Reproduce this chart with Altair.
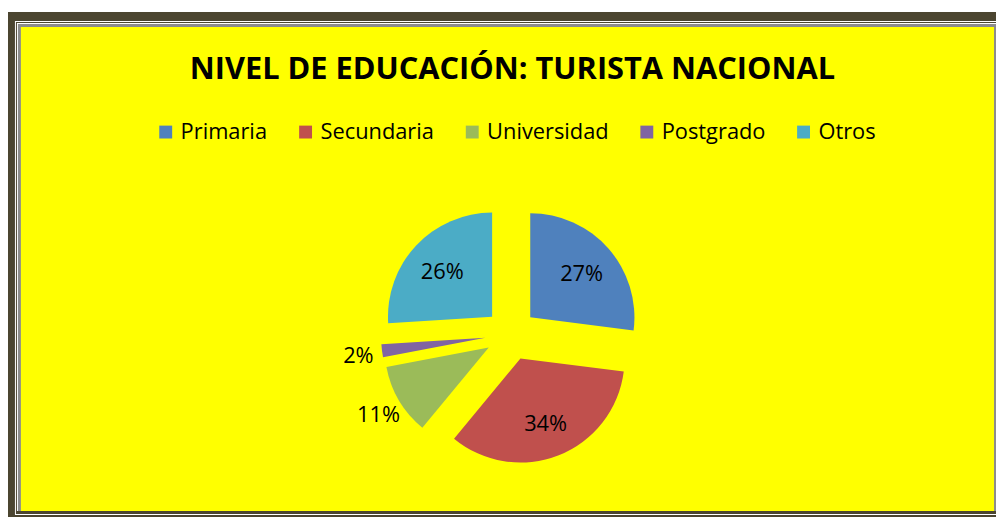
import math
import altair as alt
import pandas as pd

# ---- data ----
categories = ["Primaria", "Secundaria", "Universidad", "Postgrado", "Otros"]
values = [27, 34, 11, 2, 26]
colors = ["#4F81BD", "#C0504D", "#9BBB59", "#8064A2", "#4BACC6"]
title_text = "NIVEL DE EDUCACIÓN: TURISTA NACIONAL"

df = pd.DataFrame({"categoria": categories, "valor": values,
                   "orden": list(range(len(categories)))})
one = pd.DataFrame({"k": [0]})
total = sum(values)

# ---- layout ----
W, H = 996, 511
CX, CY = 507, 327
R = 105
EXPLODE = 26
FONT = "Open Sans"

xscale = alt.Scale(domain=[-CX, W - CX], range=[0, W], nice=False, zero=False)
yscale = alt.Scale(domain=[-CY, H - CY], range=[0, H], nice=False, zero=False)

base = alt.Chart(df).transform_window(
    fin="sum(valor)", sort=[alt.SortField("orden")], frame=[None, 0]
).transform_joinaggregate(
    total="sum(valor)"
).transform_calculate(
    ini="datum.fin - datum.valor",
    mid="(datum.fin - datum.valor / 2) / datum.total * 2 * PI",
    dx=f"{EXPLODE} * sin(datum.mid)",
    dy=f"-{EXPLODE} * cos(datum.mid)",
    lr="datum.valor / datum.total >= 0.2 ? 95 : 155",
    lx="datum.lr * sin(datum.mid)",
    ly="-datum.lr * cos(datum.mid)",
    etiqueta="datum.valor + '%'",
)


def frame_rect(color, x, x2, y, y2):
    return alt.Chart(one).mark_rect(color=color).encode(
        x=alt.value(x), x2=alt.value(x2), y=alt.value(y), y2=alt.value(y2)
    )


DARK = "#4B4530"
frame = [
    frame_rect(DARK, 0, W, 2, H),
    frame_rect("white", 7, W, 11, 509),
    frame_rect(DARK, 8, W, 12, 508),
    frame_rect("white", 9, W, 13, 505),
    frame_rect("#8C8C8C", 10, W, 14, 505),
    frame_rect("#FFFF00", 13, 994, 17, 505),
]

title = alt.Chart(one).mark_text(
    text=title_text, font=FONT, fontSize=31, fontWeight="bold",
    align="center", baseline="alphabetic", color="black"
).encode(x=alt.value(508.5), y=alt.value(70))

arcs = base.mark_arc(radius=R).encode(
    x=alt.X("dx:Q", scale=xscale, axis=None),
    y=alt.Y("dy:Q", scale=yscale, axis=None),
    theta=alt.Theta("ini:Q", scale=alt.Scale(domain=[0, total], range=[0, 2 * math.pi]), stack=None),
    theta2="fin:Q",
    color=alt.Color(
        "categoria:N",
        scale=alt.Scale(domain=categories, range=colors),
        legend=alt.Legend(
            orient="none", legendX=148, legendY=112, direction="horizontal",
            title=None, symbolType="square", symbolSize=169, symbolStrokeWidth=0,
            labelFont=FONT, labelFontSize=22, labelColor="black",
            columnPadding=27, labelOffset=4, padding=0, columns=5,
        ),
    ),
)

labels = base.mark_text(font=FONT, fontSize=22, color="black", dy=2).encode(
    x=alt.X("lx:Q", scale=xscale, axis=None),
    y=alt.Y("ly:Q", scale=yscale, axis=None),
    text="etiqueta:N",
)

chart = alt.layer(*frame, title, arcs, labels).properties(
    width=W, height=H, autosize=alt.AutoSizeParams(type="none"),
    padding=0, background="white",
).configure_view(strokeWidth=0)

chart.save("out.html", embed_options={"renderer": "svg", "actions": False})
